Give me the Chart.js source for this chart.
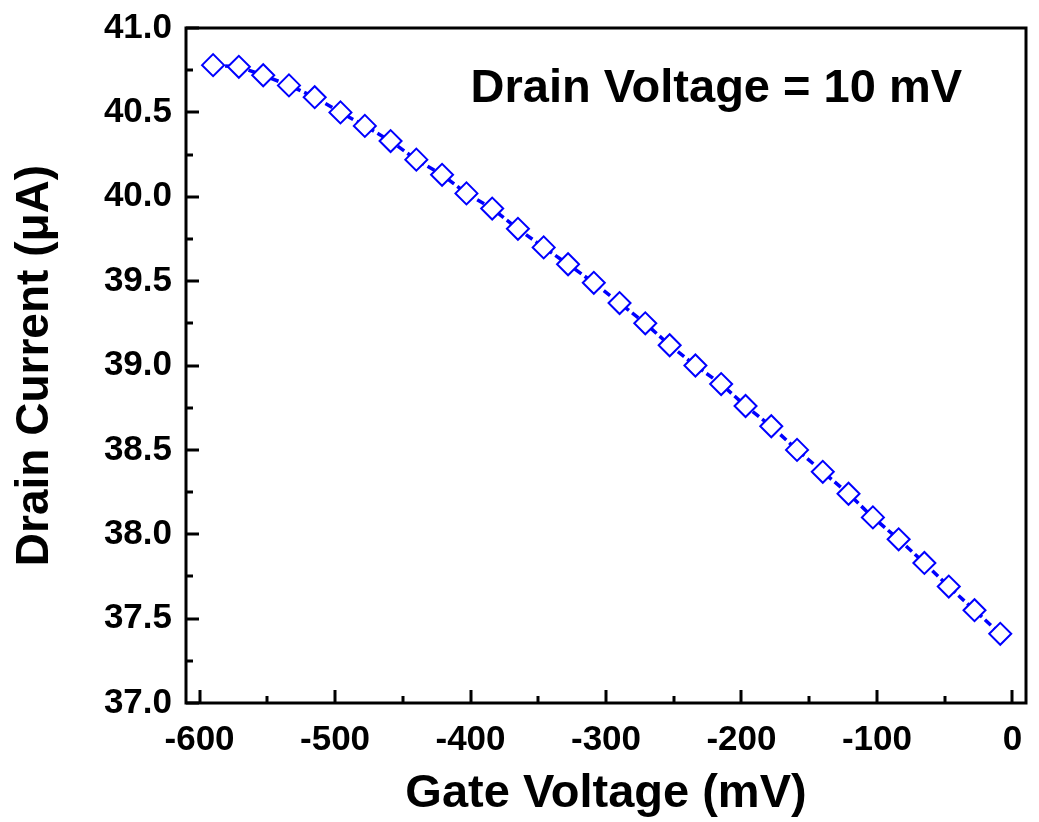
<!DOCTYPE html>
<html>
<head>
<meta charset="utf-8">
<script src="https://cdn.jsdelivr.net/npm/chart.js@4.4.1/dist/chart.umd.min.js"></script>
<style>
html, body { margin: 0; padding: 0; background: #fff; overflow: hidden; }
#wrap { width: 1039px; height: 822px; position: relative; }
</style>
</head>
<body>
<div id="wrap"><canvas id="chart"></canvas></div>
<script>
// values
var gateVoltage = [-590, -571, -553, -534, -515, -496, -478, -459, -440, -421, -403, -384,
    -365, -346, -328, -309, -290, -271, -253, -234, -215, -197, -178, -159,
    -140, -121, -103, -84, -65, -47, -28, -9];
var drainCurrent = [40.78, 40.77, 40.72, 40.66, 40.59, 40.50, 40.42, 40.33, 40.22, 40.13, 40.02, 39.93,
    39.81, 39.70, 39.60, 39.49, 39.37, 39.25, 39.12, 39.00, 38.89, 38.76, 38.64, 38.50,
    38.37, 38.24, 38.10, 37.97, 37.83, 37.69, 37.55, 37.41];

var xTicks = [-600, -500, -400, -300, -200, -100, 0];
var xMinorTicks = [-550, -450, -350, -250, -150, -50];
var yTicks = [37.0, 37.5, 38.0, 38.5, 39.0, 39.5, 40.0, 40.5, 41.0];
var yMinorTicks = [37.25, 37.75, 38.25, 38.75, 39.25, 39.75, 40.25, 40.75];

var noteText = 'Drain Voltage = 10 mV';
var noteAt = [-400, 40.56];

var FONT = '"Liberation Sans", Arial, sans-serif';
Chart.defaults.font.family = FONT;
Chart.defaults.color = '#000';

var frameTicks = {
    id: 'frameTicks',
    afterDraw: function(chart) {
        var ctx = chart.ctx, a = chart.chartArea;
        var xs = chart.scales.x, ys = chart.scales.y;
        ctx.save();
        ctx.strokeStyle = '#000';
        ctx.lineWidth = 3;
        ctx.beginPath();
        xTicks.forEach(function(v) {
            var px = Math.round(xs.getPixelForValue(v));
            ctx.moveTo(px, a.bottom); ctx.lineTo(px, a.bottom - 13);
        });
        xMinorTicks.forEach(function(v) {
            var px = Math.round(xs.getPixelForValue(v));
            ctx.moveTo(px, a.bottom); ctx.lineTo(px, a.bottom - 7);
        });
        yTicks.forEach(function(v) {
            var py = Math.round(ys.getPixelForValue(v));
            ctx.moveTo(a.left, py); ctx.lineTo(a.left + 13, py);
        });
        yMinorTicks.forEach(function(v) {
            var py = Math.round(ys.getPixelForValue(v));
            ctx.moveTo(a.left, py); ctx.lineTo(a.left + 7, py);
        });
        ctx.stroke();
        ctx.strokeRect(a.left, a.top, a.right - a.left, a.bottom - a.top);

        ctx.fillStyle = '#000';
        ctx.font = 'bold 47px ' + FONT;
        ctx.textBaseline = 'alphabetic';
        ctx.fillText(noteText, xs.getPixelForValue(noteAt[0]), ys.getPixelForValue(noteAt[1]));
        ctx.restore();
    }
};

var points = gateVoltage.map(function(v, i) { return { x: v, y: drainCurrent[i] }; });

new Chart(document.getElementById('chart'), {
    type: 'line',
    data: {
        datasets: [{
            data: points,
            borderColor: '#0000ff',
            borderWidth: 3.5,
            borderDash: [8, 4],
            tension: 0,
            pointStyle: 'rectRot',
            pointRadius: 11,
            pointBorderWidth: 2,
            pointBorderColor: '#0000ff',
            pointBackgroundColor: '#ffffff'
        }]
    },
    options: {
        responsive: true,
        maintainAspectRatio: false,
        devicePixelRatio: 1,
        animation: false,
        layout: { padding: { top: 28, right: 2, left: 0, bottom: 0 } },
        plugins: { legend: { display: false }, tooltip: { enabled: false } },
        scales: {
            x: {
                type: 'linear',
                min: -610,
                max: 10,
                grid: { display: false, drawTicks: false },
                border: { display: false },
                afterBuildTicks: function(s) { s.ticks = xTicks.map(function(v) { return { value: v }; }); },
                afterFit: function(s) { s.height = 119; s.paddingLeft = 0; s.paddingRight = 0; },
                ticks: {
                    padding: 16,
                    maxRotation: 0,
                    font: { size: 35, weight: 'bold' },
                    callback: function(v) { return String(v); }
                },
                title: {
                    display: true,
                    text: 'Gate Voltage (mV)',
                    font: { size: 47, weight: 'bold' },
                    padding: { top: 0, bottom: 0 }
                }
            },
            y: {
                min: 37,
                max: 41,
                grid: { display: false, drawTicks: false },
                border: { display: false },
                afterBuildTicks: function(s) { s.ticks = yTicks.map(function(v) { return { value: v }; }); },
                afterFit: function(s) { s.width = 186; s.paddingTop = 0; s.paddingBottom = 0; },
                ticks: {
                    padding: 14,
                    font: { size: 35, weight: 'bold' },
                    callback: function(v) { return v.toFixed(1); }
                },
                title: {
                    display: true,
                    text: 'Drain Current (\u03bcA)',
                    font: { size: 46, weight: 'bold' },
                    padding: { top: 8, bottom: 0 }
                }
            }
        }
    },
    plugins: [frameTicks]
});
</script>
</body>
</html>
